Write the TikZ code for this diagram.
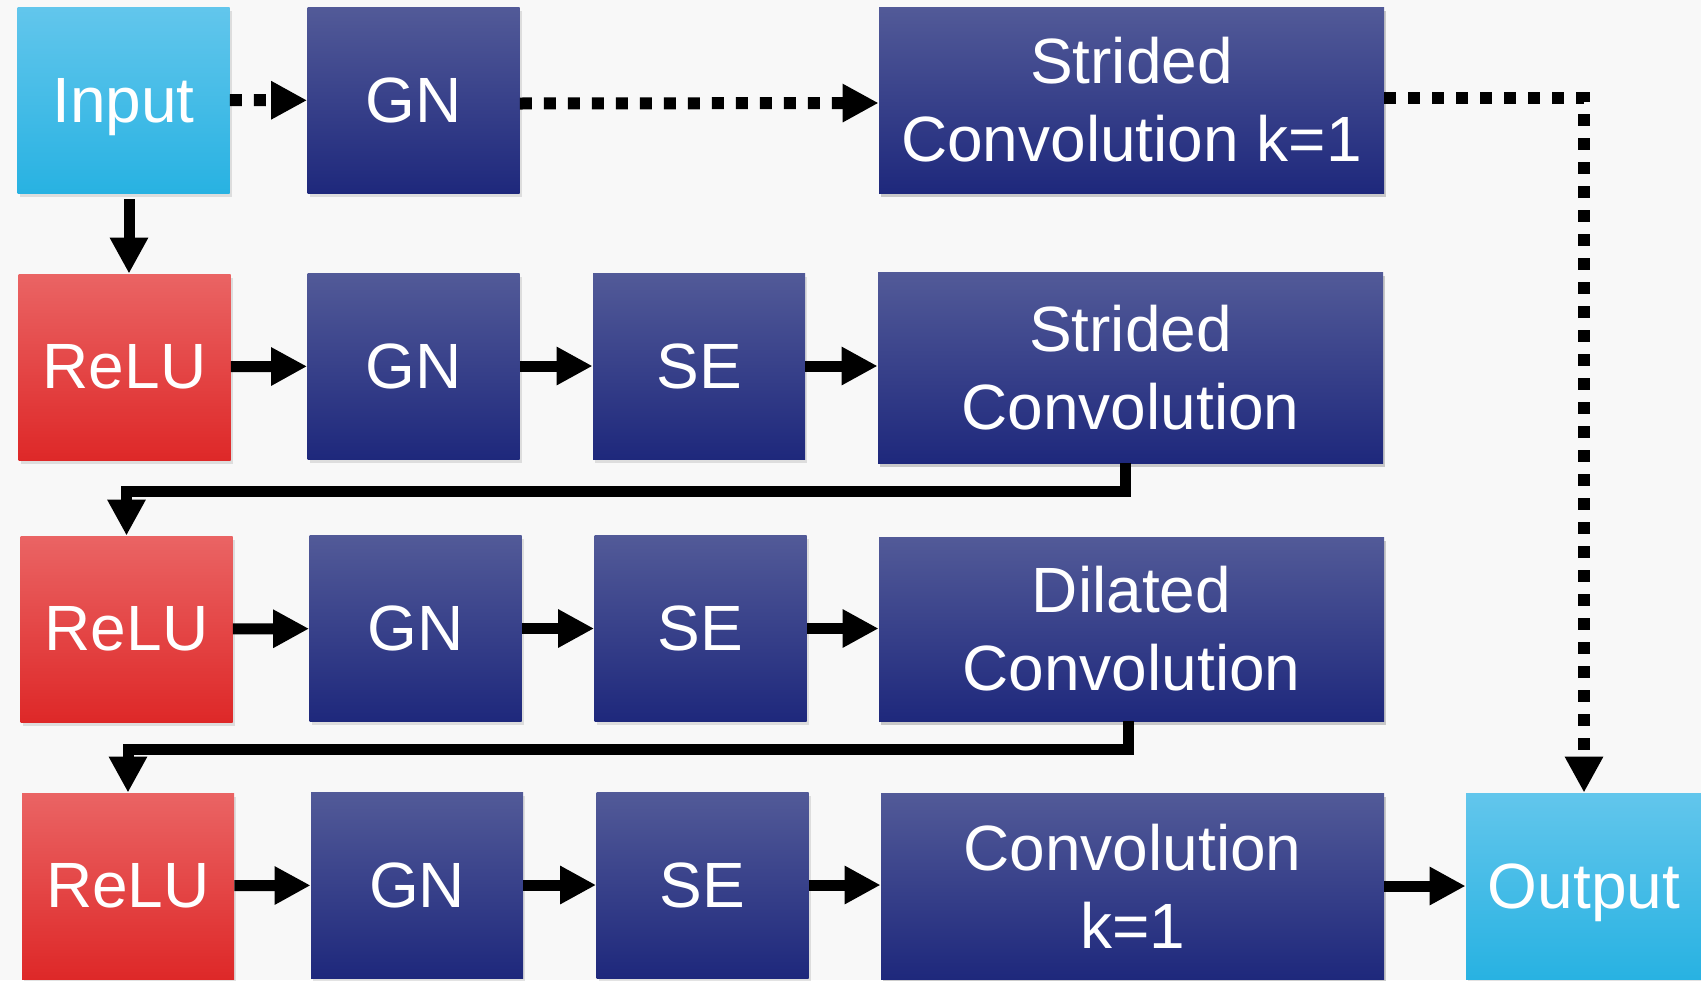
\documentclass[tikz,border=0pt]{standalone}
\usepackage{fontspec}
\setmainfont{Liberation Sans}
\usetikzlibrary{arrows.meta,shadows}

\definecolor{paper}{RGB}{248,248,248}
\definecolor{bluetop}{RGB}{82,90,152}
\definecolor{bluebot}{RGB}{30,40,124}
\definecolor{redtop}{RGB}{234,100,100}
\definecolor{redbot}{RGB}{222,40,40}
\definecolor{cyantop}{RGB}{98,198,236}
\definecolor{cyanbot}{RGB}{40,178,226}

\begin{document}
\begin{tikzpicture}[x=0.5pt,y=-0.5pt,
  box/.style={minimum width=106pt, minimum height=93pt, inner sep=0pt,
    text=white, align=center, font=\fontsize{32}{39}\selectfont,
    drop shadow={shadow xshift=1.2pt, shadow yshift=-1.8pt, opacity=0.22}},
  widebox/.style={box, minimum width=252.5pt},
  bluebox/.style={box, top color=bluetop, bottom color=bluebot},
  redbox/.style={box, top color=redtop, bottom color=redbot},
  cyanbox/.style={box, top color=cyantop, bottom color=cyanbot, text depth=0pt},
  link/.style={line width=5.5pt, -{Triangle[length=18pt,width=18pt]}},
  dotlink/.style={line width=6pt, dash pattern=on 6pt off 6pt,
    -{Triangle[length=18pt,width=18pt]}}
]
\clip (0,0) rectangle (1701,980);
\fill[paper] (0,0) rectangle (1701,980);

% first row: shortcut branch
\node[cyanbox] (inp) at (123.5,100) {Input};
\node[bluebox] (gn1) at (413.5,100.5) {GN};
\node[bluebox, widebox] (sc1) at (1131.5,100) {Strided\\Convolution k=1};

% second row
\node[redbox] (relu1) at (124.5,367) {ReLU};
\node[bluebox] (gn2) at (413.5,366) {GN};
\node[bluebox] (se2) at (699,366) {SE};
\node[bluebox, widebox, minimum height=95.5pt] (sc2) at (1130.5,367.5) {Strided\\Convolution};

% third row
\node[redbox] (relu2) at (126.5,629) {ReLU};
\node[bluebox] (gn3) at (415.5,628.5) {GN};
\node[bluebox] (se3) at (700.5,628.5) {SE};
\node[bluebox, widebox, minimum height=92pt] (dc) at (1131.5,629) {Dilated\\Convolution};

% fourth row
\node[redbox] (relu3) at (128,886) {ReLU};
\node[bluebox] (gn4) at (417,885) {GN};
\node[bluebox] (se4) at (702.5,885) {SE};
\node[bluebox, widebox, minimum width=251.5pt] (conv) at (1132.5,886) {Convolution\\k=1};
\node[cyanbox, minimum width=118pt] (out) at (1584,886) {Output};

% shortcut connectors
\draw[dotlink] (inp) -- (gn1);
\draw[dotlink] ([yshift=-1.5pt]gn1.east) -- ([yshift=-1.5pt]sc1.west);
\draw[dotlink] ([yshift=1pt]sc1.east) -| (out.north);

% main path
\draw[link, shorten <=3pt] ([xshift=2.75pt]inp.south) -- ([xshift=2.75pt]inp.south |- relu1.north);
\draw[link] (relu1) -- (gn2);
\draw[link] (gn2) -- (se2);
\draw[link] (se2) -- (sc2.west |- se2);
\path (relu2.north) ++(0,-44) coordinate (k1);
\draw[link] ([xshift=-2.75pt]sc2.south) |- (k1) -- (relu2.north);
\draw[link] (relu2) -- (gn3);
\draw[link] (gn3) -- (se3);
\draw[link] (se3) -- (dc.west |- se3);
\path (relu3.north) ++(0,-43) coordinate (k2);
\draw[link] ([xshift=-1.75pt]dc.south) |- (k2) -- (relu3.north);
\draw[link] (relu3) -- (gn4);
\draw[link] (gn4) -- (se4);
\draw[link] (se4) -- (conv.west |- se4);
\draw[link] (conv) -- (out);
\end{tikzpicture}
\end{document}
